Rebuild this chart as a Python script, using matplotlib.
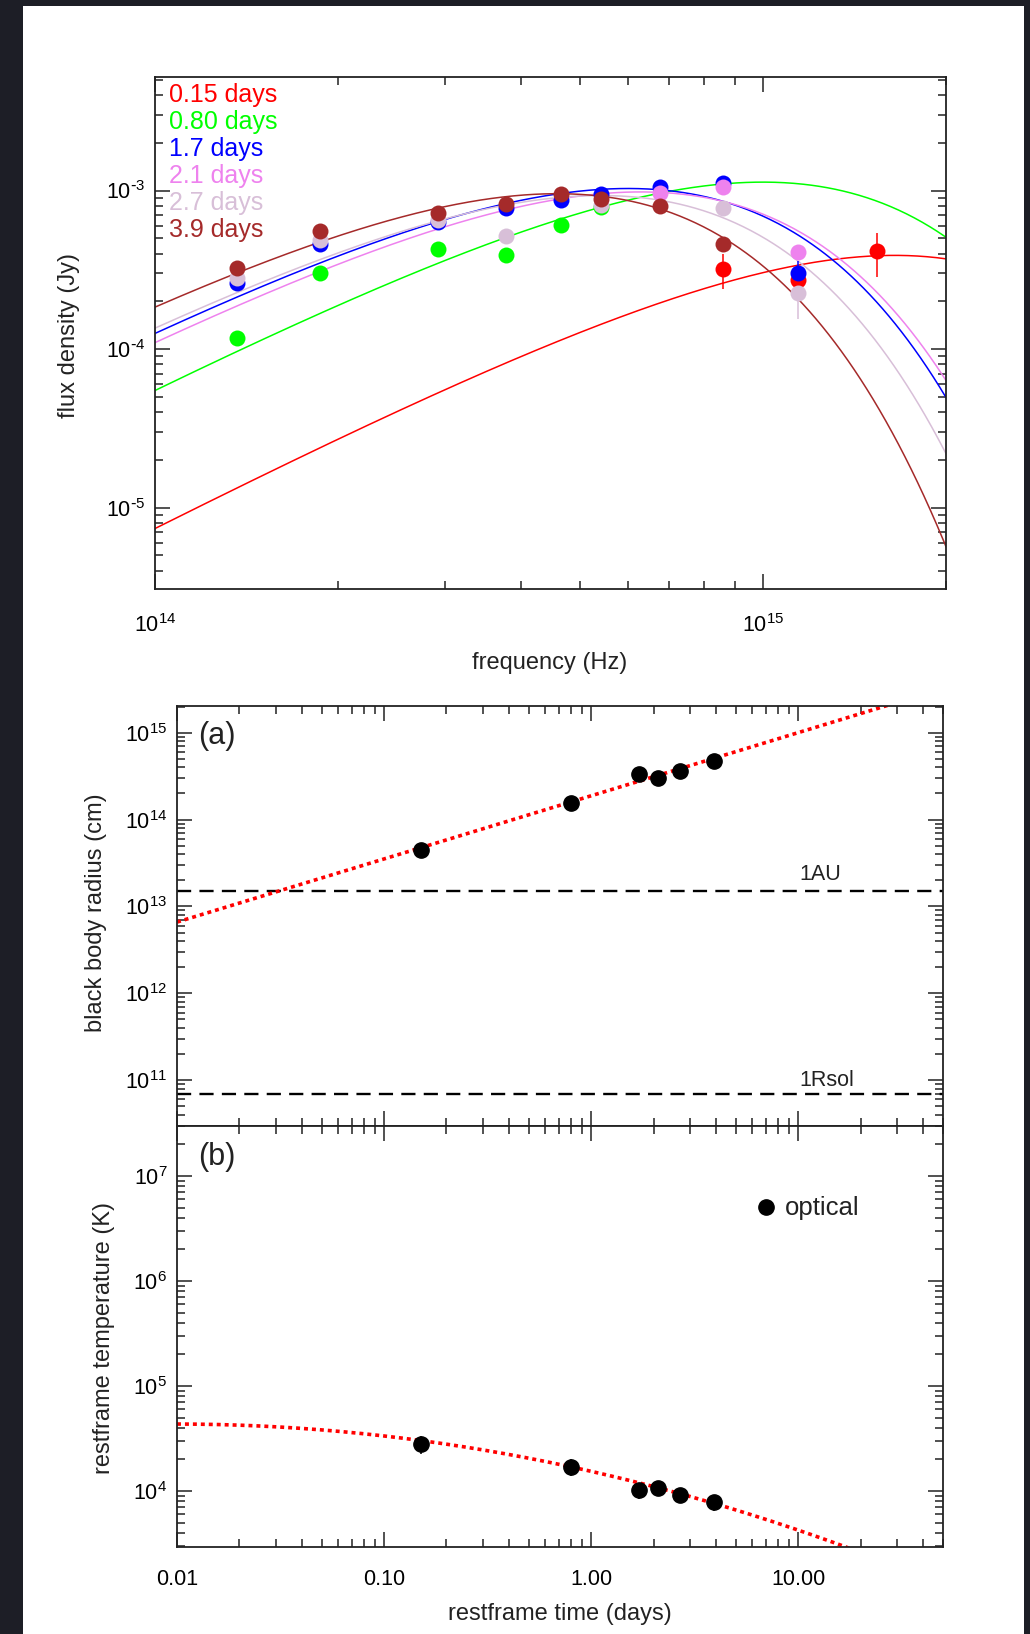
import numpy as np
import matplotlib.pyplot as plt
from matplotlib.ticker import LogLocator, NullFormatter, FixedLocator, FixedFormatter, FuncFormatter
from matplotlib.patches import Rectangle

plt.rcParams['font.family'] = ['Liberation Sans', 'DejaVu Sans']
plt.rcParams['mathtext.default'] = 'regular'
plt.rcParams['axes.unicode_minus'] = False

# ---- SED data: observed bands (Hz) and fluxes (Jy) per epoch ----
freq = np.array([1.365e14, 1.87e14, 2.92e14, 3.78e14, 4.66e14,
                 5.41e14, 6.77e14, 8.58e14, 1.14e15, 1.54e15])
nan = np.nan
flux_015 = [nan, nan, nan, nan, nan, nan, nan, 3.19e-4, 2.74e-4, 4.13e-4]
flux_080 = [1.18e-4, 3.01e-4, 4.26e-4, 3.90e-4, 6.02e-4, 7.9e-4, nan, nan, nan, nan]
flux_17 = [2.60e-4, 4.59e-4, 6.30e-4, 7.76e-4, 8.67e-4, 9.5e-4, 1.06e-3, 1.11e-3, 3.01e-4, nan]
flux_21 = [nan, nan, nan, nan, nan, nan, 9.64e-4, 1.05e-3, 4.09e-4, nan]
flux_27 = [2.80e-4, 4.90e-4, 6.50e-4, 5.19e-4, nan, 8.13e-4, nan, 7.76e-4, 2.25e-4, nan]
flux_39 = [3.26e-4, 5.57e-4, 7.20e-4, 8.25e-4, 9.5e-4, 8.87e-4, 7.94e-4, 4.59e-4, nan, nan]
ferr_015 = [nan, nan, nan, nan, nan, nan, nan, 8e-5, 4e-5, 1.3e-4]
ferr_17 = [nan] * 8 + [6e-5, nan]
ferr_27 = [nan] * 8 + [7e-5, nan]

epochs = ['0.15 days', '0.80 days', '1.7 days', '2.1 days', '2.7 days', '3.9 days']
colors = ['#ff0000', '#00ff00', '#0000ff', '#ee82ee', '#d8bfd8', '#a52a2a']
fluxes = [flux_015, flux_080, flux_17, flux_21, flux_27, flux_39]
ferrs = [ferr_015, None, ferr_17, None, ferr_27, None]

# black body fits: temperature (K) and peak flux density (Jy)
t_days = np.array([0.15, 0.80, 1.7, 2.1, 2.7, 3.9])
temp = np.array([2.8e4, 1.70e4, 1.02e4, 1.07e4, 9.2e3, 7.8e3])
temp_err = np.array([5.5e3, 3.0e3, 1.8e3, 1.8e3, 1.5e3, 1.3e3])
bb_peak = np.array([3.9e-4, 1.13e-3, 1.03e-3, 9.8e-4, 9.3e-4, 9.55e-4])
radius = np.array([4.44e13, 1.57e14, 3.31e14, 3.03e14, 3.61e14, 4.72e14])
radius_err = np.array([3.5e12, 1.2e13, 2.5e13, 2.5e13, 2.8e13, 3.5e13])

# power-law radius fit R = R1 * t^alpha, log-quadratic temperature fit
R1, alpha = 1.88e14, 0.727
tfit_coef = [4.1876, -0.4485, -0.1116]

AU = 1.496e13
RSUN = 6.96e10

H = 6.626e-34
K = 1.381e-23


def bb_shape(nu, T):
    x = H * nu / (K * T)
    return x ** 3 / np.expm1(x)


W, Hpx = 1030, 1634
fig = plt.figure(figsize=(W / 100, Hpx / 100), dpi=100)
fig.patch.set_facecolor('#1d1e26')
fig.add_artist(Rectangle((23 / W, 0), (1024 - 23) / W, 1 - 6 / Hpx,
                         transform=fig.transFigure, facecolor='white',
                         edgecolor='none', zorder=-1))


def box(l, t, r, b):
    return [l / W, 1 - b / Hpx, (r - l) / W, (b - t) / Hpx]


def style(ax):
    ax.tick_params(which='both', direction='in', top=True, right=True,
                   width=1.1, color='#222222')
    ax.tick_params(which='major', length=11, labelsize=15.5, pad=7)
    ax.tick_params(which='minor', length=5.5)
    for s in ax.spines.values():
        s.set_linewidth(1.3)
        s.set_color('#222222')


def pow10(v, pos):
    e = int(round(np.log10(v)))
    if e < 0:
        return r'$10^{\text{-}%d}$' % (-e)
    return r'$10^{%d}$' % e


def log_ticks(axis):
    axis.set_major_locator(LogLocator(base=10, numticks=100))
    axis.set_major_formatter(FuncFormatter(pow10))
    axis.set_minor_locator(LogLocator(base=10, subs=np.arange(2, 10), numticks=100))
    axis.set_minor_formatter(NullFormatter())


# ---- top panel: SEDs ----
ax0 = fig.add_axes(box(155, 77, 946, 589))
ax0.set_xscale('log')
ax0.set_yscale('log')
ax0.set_xlim(1e14, 2e15)
ax0.set_ylim(3.07e-6, 5.2e-3)
log_ticks(ax0.xaxis)
log_ticks(ax0.yaxis)
style(ax0)
ax0.tick_params(axis='x', which='major', pad=18)

nu = np.logspace(14, np.log10(2e15), 500)
for T, fpk, c in zip(temp, bb_peak, colors):
    nu_pk = 2.821 * K * T / H
    ax0.plot(nu, fpk * bb_shape(nu, T) / bb_shape(nu_pk, T), color=c, lw=1.1, zorder=2)

for f, e, c in zip(fluxes, ferrs, colors):
    f = np.array(f)
    m = ~np.isnan(f)
    yerr = None
    if e is not None:
        yerr = np.nan_to_num(np.array(e))[m]
    ax0.errorbar(freq[m], f[m], yerr=yerr, fmt='o', ms=11.5, color=c, mec='none',
                 ecolor=c, elinewidth=1.1, capsize=0, zorder=3)

for i, (lab, c) in enumerate(zip(epochs, colors)):
    ax0.text(0.0177, 0.9506 - i * 0.0527, lab, color=c, fontsize=18,
             transform=ax0.transAxes, ha='left', va='baseline')

fig.text(69 / W, 1 - 336 / Hpx, 'flux density (Jy)', rotation=90,
         ha='center', va='center', fontsize=17, color='#222222')
fig.text(550 / W, 1 - 663 / Hpx, 'frequency (Hz)', ha='center', va='center',
         fontsize=17, color='#222222')

# ---- panel (a): black body radius ----
t_grid = np.logspace(-2, np.log10(50), 300)

ax1 = fig.add_axes(box(177, 706, 943, 1126))
ax1.set_xscale('log')
ax1.set_yscale('log')
ax1.set_xlim(0.01, 50)
ax1.set_ylim(2.97e10, 2.03e15)
log_ticks(ax1.xaxis)
log_ticks(ax1.yaxis)
style(ax1)
ax1.tick_params(axis='x', labelbottom=False)

ax1.axhline(AU, color='black', lw=1.7, ls=(0, (6, 3.5)))
ax1.axhline(RSUN, color='black', lw=1.7, ls=(0, (6, 3.5)))
ax1.text(10.1, 2.0e13, '1AU', fontsize=15.5, color='#222222', va='baseline')
ax1.text(10.1, 8.65e10, '1Rsol', fontsize=15.5, color='#222222', va='baseline')
ax1.plot(t_grid, R1 * t_grid ** alpha, color='red', lw=2.6, ls=(0, (1.1, 1.1)), zorder=2)
ax1.errorbar(t_days, radius, yerr=radius_err, fmt='o', ms=11, color='black',
             elinewidth=1.1, capsize=0, zorder=3)
ax1.text(0.0274, 0.9095, '(a)', fontsize=22, color='#222222',
         transform=ax1.transAxes, va='baseline')
fig.text(96 / W, 1 - 913 / Hpx, 'black body radius (cm)', rotation=90,
         ha='center', va='center', fontsize=17, color='#222222')

# ---- panel (b): temperature ----
ax2 = fig.add_axes(box(177, 1126, 943, 1547))
ax2.set_xscale('log')
ax2.set_yscale('log')
ax2.set_xlim(0.01, 50)
ax2.set_ylim(2.93e3, 3.0e7)
log_ticks(ax2.xaxis)
log_ticks(ax2.yaxis)
style(ax2)
ax2.xaxis.set_major_locator(FixedLocator([0.01, 0.1, 1, 10]))
ax2.xaxis.set_major_formatter(FixedFormatter(['0.01', '0.10', '1.00', '10.00']))
ax2.tick_params(axis='x', which='major', pad=16)

u = np.log10(t_grid)
ax2.plot(t_grid, 10 ** (tfit_coef[0] + tfit_coef[1] * u + tfit_coef[2] * u ** 2),
         color='red', lw=2.6, ls=(0, (1.1, 1.1)), zorder=2)
ax2.errorbar(t_days, temp, yerr=temp_err, fmt='o', ms=11, color='black',
             elinewidth=1.1, capsize=0, zorder=3)
ax2.plot([0.769], [0.8076], 'o', ms=11, color='black', transform=ax2.transAxes)
ax2.text(0.793, 0.789, 'optical', fontsize=18.5, color='#222222',
         transform=ax2.transAxes, va='baseline')
ax2.text(0.0274, 0.907, '(b)', fontsize=22, color='#222222',
         transform=ax2.transAxes, va='baseline')
fig.text(104 / W, 1 - 1338 / Hpx, 'restframe temperature (K)', rotation=90,
         ha='center', va='center', fontsize=17, color='#222222')
fig.text(560 / W, 1 - 1614 / Hpx, 'restframe time (days)', ha='center',
         va='center', fontsize=17, color='#222222')

fig.savefig('out.png', dpi=100)
